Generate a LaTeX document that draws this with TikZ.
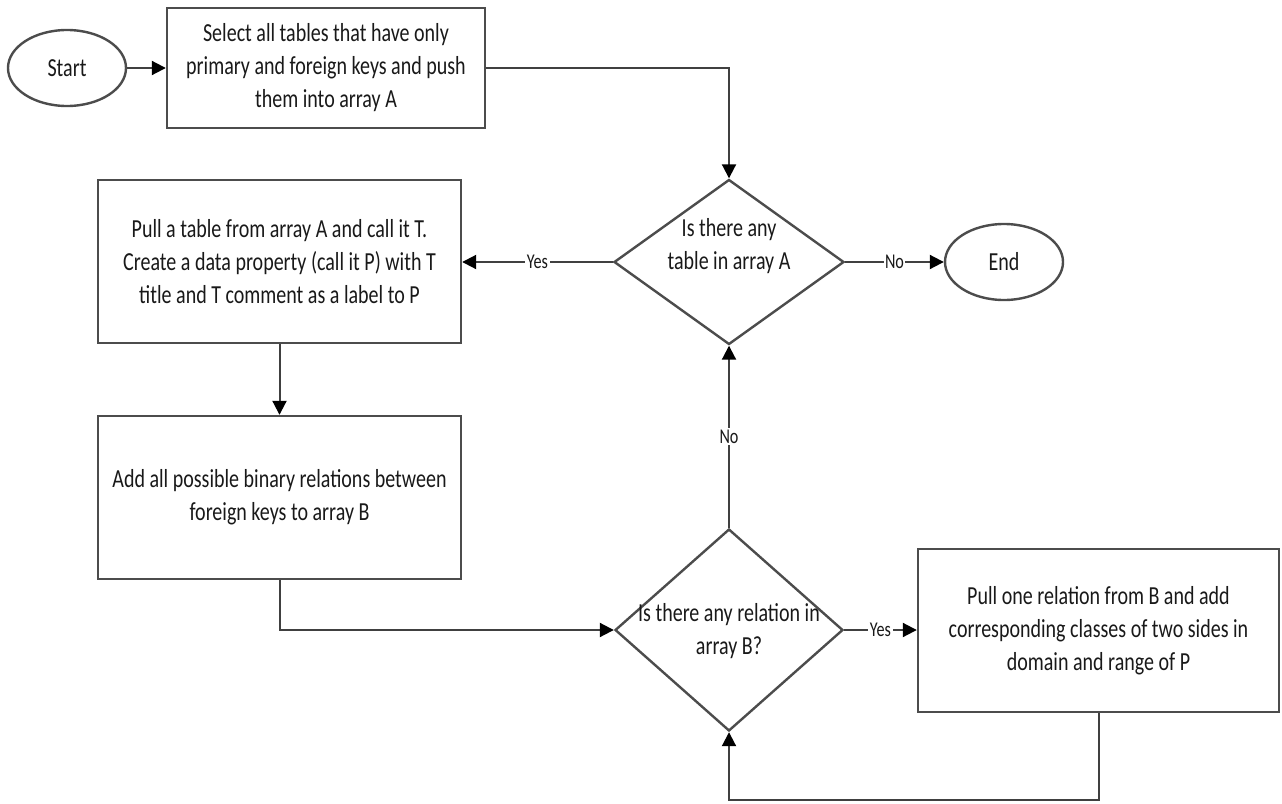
\documentclass[tikz,border=0pt]{standalone}
\usepackage{fontspec}
\setmainfont[FakeStretch=0.77]{Carlito}
\usetikzlibrary{shapes.geometric,arrows.meta}
\begin{document}
\begin{tikzpicture}[x=1pt,y=-1pt,
  txt/.style={font=\fontsize{26}{33}\selectfont, align=center, text=black!90},
  border/.style={draw=black!70, line width=2.4pt},
  term/.style={border, txt, ellipse, minimum width=118pt, minimum height=76pt, inner sep=0pt},
  proc/.style={border, txt, rectangle, inner sep=0pt},
  decision/.style={border, diamond, inner sep=0pt},
  flow/.style={draw=black!75, line width=2pt, -{Triangle[length=14pt,width=14pt,color=black]}},
  lbl/.style={fill=white, inner sep=1.5pt, text=black!90, font=\fontsize{21}{25}\selectfont}]
\useasboundingbox (0,0) rectangle (1282,803);

% terminals
\node[term] (start) at (67,68) {Start};
\node[term] (end) at (1004,262) {End};

% process boxes
\node[proc, minimum width=318pt, minimum height=120pt] (sel) at (326,68)
  {Select all tables that have only\\primary and foreign keys and push\\them into array A};
\node[proc, minimum width=363pt, minimum height=163pt] (pull) at (279.5,261.5)
  {Pull a table from array A and call it T.\\Create a data property (call it P) with T\\title and T comment as a label to P};
\node[proc, minimum width=363pt, minimum height=163pt] (addb) at (279.5,497.5)
  {Add all possible binary relations between\\foreign keys to array B};
\node[proc, minimum width=361pt, minimum height=163pt] (rel) at (1098.5,630.5)
  {Pull one relation from B and add\\corresponding classes of two sides in\\domain and range of P};

% decisions
\node[decision, minimum width=230pt, minimum height=165pt] (qa) at (729,262) {};
\node[txt] (qat) at (729,246) {Is there any\\table in array A};
\node[decision, minimum width=228pt, minimum height=202pt] (qb) at (729,630) {};
\node[txt] (qbt) at (729,631) {Is there any relation in\\array B?};

\coordinate (back) at (1098.5,800);

% connectors
\draw[flow] (start) -- (sel);
\draw[flow] (sel.east) -| (qa.north);
\draw[flow] (qa.west) -- node[lbl] {Yes} (qa.west -| pull.east);
\draw[flow] (qa.east) -- node[lbl] {No} (end.west);
\draw[flow] (pull.south) -- (addb.north);
\draw[flow] (addb.south) |- (qb.west);
\draw[flow] (qb.east) -- node[lbl] {Yes} (qb.east -| rel.west);
\draw[flow] (rel.south) -- (back) -| (qb.south);
\draw[flow] (qb.north) -- node[lbl] {No} (qa.south);
\end{tikzpicture}
\end{document}
